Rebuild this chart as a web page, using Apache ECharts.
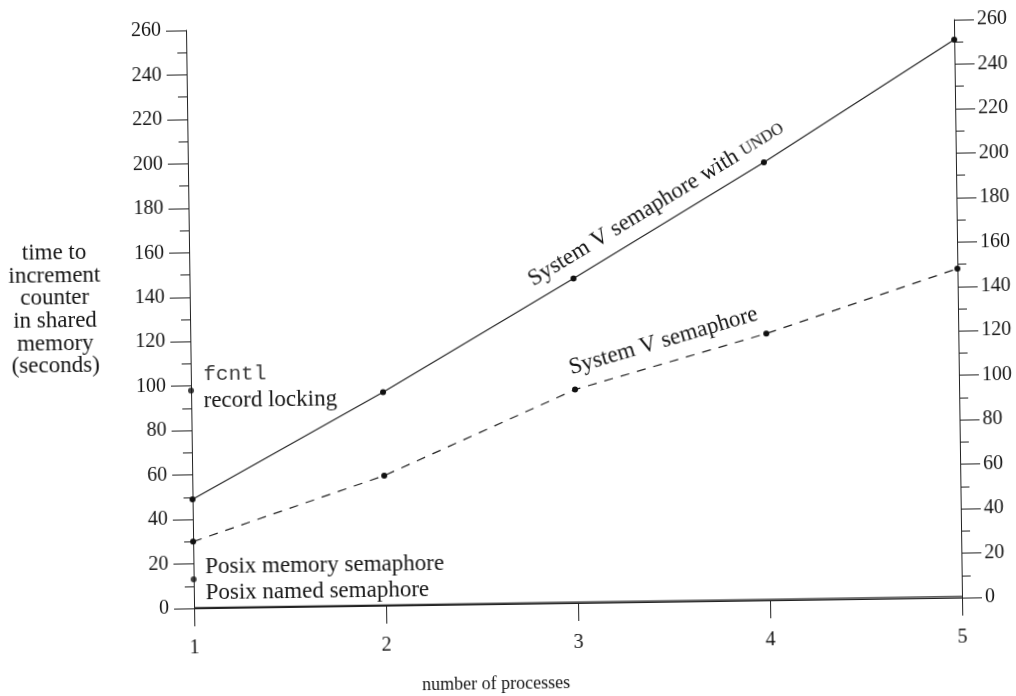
<!DOCTYPE html>
<html>
<head>
<meta charset="utf-8">
<script src="https://cdn.jsdelivr.net/npm/echarts@6/dist/echarts.min.js"></script>
<style>
html, body { margin: 0; padding: 0; background: #fff; overflow: hidden; }
#chart { width: 1016px; height: 696px; transform: rotate(-0.8deg); transform-origin: 574px 314px; }
</style>
</head>
<body>
<div id="chart"></div>
<script>
// ---- data (seconds to increment a counter in shared memory) ----
const processes = [1, 2, 3, 4, 5];
const sysvUndoTimes = [49, 96, 146, 197, 251];
const sysvTimes = [30, 58.5, 96, 120, 148];
const fcntlProcesses = [1];
const fcntlTimes = [98];
const posixMemProcesses = [1];
const posixMemTimes = [13];
const posixNamedTimes = [0.3, 0.3, 0.4, 0.4, 0.5];
const yTicks = [0, 20, 40, 60, 80, 100, 120, 140, 160, 180, 200, 220, 240, 260];
const xTickLabels = ['1', '2', '3', '4', '5'];

// ---- styling ----
const SERIF = '"Liberation Serif", "Times New Roman", serif';
const MONO = '"Liberation Mono", "Courier New", monospace';
const INK = '#151515';
const LINE = '#222';

const chart = echarts.init(document.getElementById('chart'), null, { renderer: 'canvas' });

const yMin = yTicks[0], yMax = yTicks[yTicks.length - 1], yStep = yTicks[1] - yTicks[0];

function yAxisCfg(pos, margin) {
  return {
    type: 'value', position: pos, min: yMin, max: yMax, interval: yStep,
    axisLine: { show: true, onZero: false, lineStyle: { color: LINE, width: 1 } },
    axisTick: { show: true, inside: false, length: 20, lineStyle: { color: LINE, width: 1 } },
    minorTick: { show: true, splitNumber: 2, length: 9, lineStyle: { color: LINE, width: 1 } },
    splitLine: { show: false }, minorSplitLine: { show: false },
    axisLabel: { margin: margin, fontFamily: SERIF, fontSize: 20, color: INK }
  };
}

const leftAxis = yAxisCfg('left', 25);
// trailing blank line lifts the centred block half a line above the axis middle
leftAxis.name = 'time to\nincrement\ncounter\nin shared\nmemory\n(seconds)\n ';
leftAxis.nameLocation = 'middle';
leftAxis.nameRotate = 0;
leftAxis.nameGap = 135;
leftAxis.nameTextStyle = { fontFamily: SERIF, fontSize: 23, color: INK, align: 'center', verticalAlign: 'middle', lineHeight: 22.6 };

const option = {
  animation: false,
  backgroundColor: '#fff',
  grid: { left: 190, top: 25, width: 768, height: 578, containLabel: false, outerBoundsMode: 'none' },
  xAxis: {
    type: 'value', min: processes[0], max: processes[processes.length - 1], interval: 1,
    axisLine: { show: true, onZero: false, lineStyle: { color: LINE, width: 1 } },
    axisTick: { show: true, inside: false, length: 18, lineStyle: { color: LINE, width: 1 } },
    splitLine: { show: false },
    axisLabel: { margin: 30, fontFamily: SERIF, fontSize: 20, color: INK,
      formatter: v => xTickLabels[processes.indexOf(v)] ?? '' },
    name: 'number of processes', nameLocation: 'middle', nameGap: 71,
    nameTextStyle: { fontFamily: SERIF, fontSize: 18, color: INK, padding: [0, 166, 0, 0] }
  },
  yAxis: [leftAxis, yAxisCfg('right', 23)],
  series: [
    {
      name: 'System V semaphore with UNDO', type: 'line', yAxisIndex: 0,
      data: processes.map((p, i) => [p, sysvUndoTimes[i]]),
      symbol: 'circle', symbolSize: 6, showSymbol: true,
      itemStyle: { color: '#111' }, lineStyle: { color: LINE, width: 1.2, type: 'solid' }
    },
    {
      name: 'System V semaphore', type: 'line', yAxisIndex: 0,
      data: processes.map((p, i) => [p, sysvTimes[i]]),
      symbol: 'circle', symbolSize: 6,
      itemStyle: { color: '#111' }, lineStyle: { color: LINE, width: 1.2, type: [9, 8] }
    },
    {
      name: 'Posix named semaphore', type: 'line', yAxisIndex: 0,
      data: processes.map((p, i) => [p, posixNamedTimes[i]]),
      symbol: 'none',
      lineStyle: { color: LINE, width: 1.3 }
    },
    {
      name: 'fcntl record locking', type: 'scatter', yAxisIndex: 0,
      data: fcntlProcesses.map((p, i) => [p, fcntlTimes[i]]),
      symbol: 'circle', symbolSize: 6, itemStyle: { color: '#111' }
    },
    {
      name: 'Posix memory semaphore', type: 'scatter', yAxisIndex: 0,
      data: posixMemProcesses.map((p, i) => [p, posixMemTimes[i]]),
      symbol: 'circle', symbolSize: 6, itemStyle: { color: '#111' }
    }
  ]
};
chart.setOption(option);

// ---- text annotations, anchored in data coordinates ----
const flatNotes = [
  { text: 'fcntl', at: [1.065, 104.9], font: MONO, size: 21, color: '#3a3a3a' },
  { text: 'record locking', at: [1.065, 93.2], font: SERIF, size: 23, color: INK },
  { text: 'Posix memory semaphore', at: [1.061, 18.3], font: SERIF, size: 23, color: INK },
  { text: 'Posix named semaphore', at: [1.061, 6.8], font: SERIF, size: 23, color: INK }
];
const slantNotes = [
  { text: 'System V semaphore with {sc|UNDO}', at: [3.437, 178.9], along: sysvUndoTimes },
  { text: 'System V semaphore', at: [3.464, 117.3], along: sysvTimes }
];

const toPx = v => chart.convertToPixel({ xAxisIndex: 0, yAxisIndex: 0 }, v);
const graphics = [];
flatNotes.forEach(n => {
  const p = toPx(n.at);
  graphics.push({ type: 'text', x: p[0], y: p[1], silent: true,
    style: { text: n.text, fontFamily: n.font, fontSize: n.size, fill: n.color, align: 'left', verticalAlign: 'middle' } });
});
slantNotes.forEach(n => {
  const p = toPx(n.at);
  const a = toPx([processes[2], n.along[2]]);
  const b = toPx([processes[3], n.along[3]]);
  const ang = Math.atan2(a[1] - b[1], b[0] - a[0]);
  graphics.push({ type: 'text', x: p[0], y: p[1], rotation: ang, silent: true,
    style: { text: n.text, fontFamily: SERIF, fontSize: 23, fill: INK, align: 'center', verticalAlign: 'middle',
      rich: { sc: { fontFamily: SERIF, fontSize: 16.5, fill: INK } } } });
});
chart.setOption({ graphic: graphics });
</script>
</body>
</html>
